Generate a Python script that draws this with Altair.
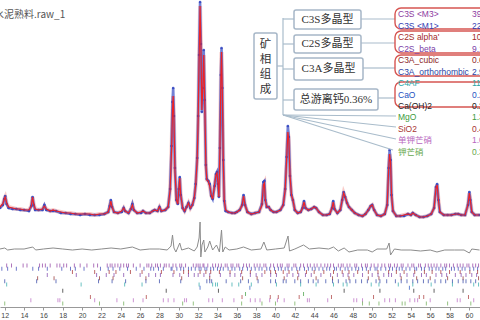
import altair as alt
import pandas as pd

# ---------------- data ----------------
TITLE = "水泥熟料.raw_1"
X_TITLE = "2Th Degrees"

# 2-theta positions of the profile samples
tth = [
    11.5, 11.8, 11.95, 12.05, 12.2, 12.4, 12.8, 13.2, 13.6, 14.0,
    14.5, 14.75, 14.88, 15.0, 15.15, 15.5, 15.9, 16.1, 16.3, 16.7,
    17.0, 17.3, 17.8, 18.3, 18.8, 19.3, 19.8, 20.3, 20.8, 21.3,
    21.8, 22.3, 22.7, 22.85, 22.97, 23.1, 23.3, 23.7, 24.1, 24.3,
    24.45, 24.8, 25.05, 25.2, 25.35, 25.7, 26.1, 26.3, 26.6, 27.0,
    27.3, 27.5, 27.8, 28.0, 28.2, 28.6, 28.9, 29.1, 29.25, 29.35,
    29.42, 29.5, 29.6, 29.75, 29.9, 30.0, 30.1, 30.2, 30.4, 30.6,
    30.8, 31.0, 31.2, 31.4, 31.6, 31.75, 31.9, 32.0, 32.1, 32.2,
    32.28, 32.38, 32.48, 32.58, 32.68, 32.8, 32.9, 33.05, 33.2, 33.35,
    33.5, 33.7, 33.85, 33.95, 34.05, 34.15, 34.25, 34.35, 34.42, 34.5,
    34.6, 34.7, 34.85, 35.1, 35.5, 35.8, 36.0, 36.3, 36.55, 36.7,
    36.85, 37.1, 37.5, 37.9, 38.3, 38.6, 38.75, 38.85, 38.95, 39.1,
    39.3, 39.5, 39.8, 40.1, 40.5, 40.8, 41.0, 41.15, 41.28, 41.38,
    41.5, 41.65, 41.8, 42.0, 42.3, 42.6, 42.8, 42.95, 43.1, 43.4,
    43.7, 44.0, 44.2, 44.5, 44.9, 45.3, 45.6, 45.85, 45.97, 46.1,
    46.4, 46.7, 46.9, 47.05, 47.2, 47.4, 47.6, 47.9, 48.2, 48.6,
    49.0, 49.3, 49.6, 49.85, 50.0, 50.2, 50.5, 50.9, 51.3, 51.55,
    51.7, 51.8, 51.9, 52.0, 52.15, 52.5, 52.9, 53.3, 53.7, 54.0,
    54.2, 54.5, 54.9, 55.3, 55.7, 56.1, 56.4, 56.6, 56.72, 56.85,
    57.0, 57.4, 57.8, 58.2, 58.6, 58.9, 59.2, 59.6, 59.9, 60.05,
    60.15, 60.3, 60.6, 61.1,
]
# calculated profile (arbitrary intensity units)
calc = [
    100, 103, 108, 110, 104, 100, 99, 98, 98, 97,
    97, 101, 110, 103, 98, 97, 98, 101, 98, 96,
    97, 96, 95, 94, 94, 93, 93, 93, 93, 92,
    93, 93, 95, 100, 106, 100, 95, 94, 96, 99,
    96, 94, 98, 102, 97, 94, 95, 96, 94, 94,
    96, 97, 96, 100, 96, 97, 100, 117, 157, 197,
    211, 187, 137, 107, 103, 117, 129, 112, 99, 96,
    100, 104, 99, 102, 109, 122, 147, 187, 247, 301,
    267, 197, 217, 252, 207, 142, 127, 126, 121, 112,
    108, 122, 132, 134, 124, 110, 157, 227, 255, 217,
    147, 107, 97, 95, 94, 94, 95, 97, 102, 111,
    102, 95, 93, 94, 95, 102, 122, 124, 107, 100,
    100, 97, 95, 95, 97, 102, 117, 147, 175, 167,
    132, 112, 107, 97, 94, 95, 99, 105, 99, 97,
    98, 100, 99, 95, 92, 92, 93, 99, 105, 98,
    94, 97, 107, 114, 110, 104, 100, 97, 94, 92,
    91, 93, 97, 101, 102, 97, 92, 91, 93, 102,
    137, 153, 145, 112, 96, 91, 91, 92, 93, 92,
    94, 92, 90, 90, 91, 93, 99, 119, 122, 107,
    95, 92, 92, 92, 93, 93, 92, 92, 102, 114,
    107, 95, 92, 92,
]
# observed profile (same units)
obs = [
    99, 102, 108, 111, 103, 99, 98, 98, 97, 97,
    96, 101, 110, 102, 97, 97, 97, 102, 97, 96,
    96, 96, 94, 94, 93, 93, 92, 93, 92, 92,
    92, 93, 95, 101, 107, 100, 95, 94, 95, 99,
    96, 94, 98, 103, 97, 94, 94, 96, 94, 94,
    96, 97, 96, 100, 96, 97, 100, 118, 161, 205,
    219, 191, 139, 107, 103, 118, 130, 112, 99, 96,
    100, 104, 99, 102, 109, 123, 149, 191, 252, 305,
    263, 195, 219, 257, 207, 142, 128, 126, 123, 111,
    108, 121, 133, 135, 123, 110, 159, 232, 259, 219,
    147, 106, 96, 95, 94, 94, 95, 97, 102, 112,
    102, 95, 93, 94, 95, 103, 125, 126, 107, 100,
    100, 97, 95, 95, 97, 102, 118, 150, 181, 170,
    131, 112, 107, 97, 94, 95, 99, 106, 99, 97,
    98, 100, 99, 95, 92, 92, 93, 99, 106, 98,
    94, 97, 107, 115, 110, 104, 100, 97, 94, 92,
    91, 93, 97, 101, 102, 97, 92, 91, 93, 102,
    139, 157, 147, 112, 96, 91, 91, 91, 93, 92,
    94, 92, 90, 90, 91, 93, 99, 120, 123, 107,
    95, 92, 92, 92, 93, 93, 92, 92, 102, 115,
    107, 95, 92, 92,
]
# difference curve (obs - calc)
diff_tth = [
    11.5, 12.0, 12.3, 13.0, 14.0, 14.9, 15.2, 16.0, 17.0, 18.0,
    19.0, 20.0, 21.0, 22.0, 23.0, 24.0, 25.2, 26.0, 27.0, 28.0,
    28.8, 29.2, 29.35, 29.5, 29.7, 30.1, 30.3, 31.0, 31.6, 31.9,
    32.1, 32.2, 32.28, 32.4, 32.58, 32.7, 33.0, 33.2, 33.5, 33.9,
    34.2, 34.42, 34.55, 34.8, 35.2, 36.0, 36.7, 37.5, 38.5, 38.8,
    39.1, 40.0, 40.9, 41.3, 41.45, 42.0, 42.9, 43.5, 44.5, 45.5,
    46.0, 46.5, 47.1, 47.6, 48.5, 49.5, 50.0, 50.5, 51.5, 51.75,
    51.9, 52.3, 53.0, 54.0, 55.0, 56.0, 56.7, 57.5, 58.5, 59.5,
    60.05, 60.3, 61.1,
]
diff = [
    0, 1, -1, 0, 0, 2, -1, 0, 1, 0,
    -1, 0, -1, 0, 1, 0, 2, -1, 0, 0,
    -1, 3, 14, 1, -3, 6, -1, 1, -2, 2,
    11, 27, -8, 4, 9, -3, 2, 8, -1, 4,
    -3, 19, -3, 2, -1, 0, 2, -1, 0, 7,
    -1, 0, 1, 13, -2, 0, 4, 0, 1, 0,
    2, -2, 1, -3, -1, -1, -3, 0, 0, 6,
    -6, 0, -1, -1, -2, -1, -3, -1, -1, -1,
    -4, 0, -1,
]

phases = ["C3S <M3>", "C3S <M1>", "C2S alpha'", "C2S_beta", "C3A_cubic",
          "C3A_orthorhombic", "C4AF", "CaO", "Ca(OH)2", "MgO", "SiO2",
          "单钾芒硝", "钾芒硝"]
phase_wt = ["39.52", "22.41", "10.87", "9.14", "0.63", "2.95", "11.28",
            "0.20", "0.21", "1.32", "0.47", "1.06", "0.38"]

# reflection positions per phase
r_c3s_m3 = [12.2, 12.7, 13.9, 14.3, 15.6, 15.9, 16.2, 16.7, 17.4, 17.7, 18.1, 18.4,
            19.2, 19.8, 20.5, 21.2, 21.6, 22.6, 22.9, 23.1, 23.4, 23.7, 24.0, 24.3,
            24.6, 24.8, 25.3, 26.0, 26.7, 26.9, 27.2, 27.6, 27.8, 28.1, 28.5, 28.7,
            29.0, 29.4, 29.7, 30.1, 30.3, 30.7, 31.5, 31.8, 32.0, 32.2, 32.5, 32.6,
            33.0, 33.5, 33.8, 34.1, 34.4, 34.8, 35.0, 35.4, 35.6, 36.0, 36.2, 36.7,
            37.0, 37.3, 37.8, 38.1, 38.4, 38.8, 39.0, 39.5, 39.8, 40.2, 40.5, 40.7,
            41.2, 41.4, 41.9, 42.1, 42.6, 42.9, 43.3, 43.6, 44.0, 44.3, 44.7, 45.1,
            45.4, 45.7, 46.0, 46.5, 46.8, 47.0, 47.4, 47.7, 48.2, 48.4, 48.9, 49.3,
            49.5, 49.9, 50.2, 50.6, 51.0, 51.3, 51.7, 51.9, 52.3, 52.6, 53.0, 53.2,
            53.7, 54.1, 54.3, 54.8, 55.0, 55.5, 55.8, 56.1, 56.4, 56.7, 57.1, 57.5,
            57.7, 58.0, 58.4, 58.8, 59.1, 59.4, 59.8, 60.0, 60.4, 60.7, 61.0]
r_c3s_m1 = [11.7, 12.3, 13.2, 14.9, 15.5, 16.4, 17.9, 18.8, 19.3, 20.2, 21.9, 22.7,
            23.2, 23.9, 24.7, 25.6, 26.4, 27.1, 27.4, 27.9, 28.4, 29.2, 29.3, 29.8,
            30.2, 30.5, 31.0, 31.3, 31.7, 32.1, 32.3, 32.7, 32.9, 33.3, 33.6, 34.0,
            34.3, 34.6, 35.1, 35.5, 35.8, 36.3, 36.6, 37.1, 37.5, 37.9, 38.3, 38.6,
            39.1, 39.4, 39.9, 40.3, 40.6, 41.0, 41.3, 41.7, 42.2, 42.5, 43.0, 43.4,
            43.8, 44.1, 44.5, 44.9, 45.3, 45.6, 46.1, 46.3, 46.7, 47.2, 47.5, 47.9,
            48.3, 48.6, 49.0, 49.4, 49.8, 50.3, 50.5, 50.9, 51.4, 51.8, 52.1, 52.5,
            52.8, 53.1, 53.5, 53.9, 54.4, 54.6, 55.1, 55.4, 55.9, 56.2, 56.6, 56.9,
            57.3, 57.6, 58.2, 58.5, 58.9, 59.3, 59.6, 60.1, 60.5, 60.9]
r_c2s_alpha = [19.0, 21.3, 22.8, 23.5, 25.0, 26.2, 28.2, 29.5, 30.5, 31.0, 32.2, 32.8,
               33.3, 34.2, 35.3, 36.5, 37.4, 38.9, 39.5, 40.0, 40.8, 41.4, 42.3, 43.2,
               44.0, 45.0, 46.0, 46.9, 47.6, 48.5, 49.6, 50.6, 51.7, 52.5, 53.3, 54.4,
               55.4, 56.2, 57.1, 58.0, 59.1, 60.1, 60.9]
r_c2s_beta = [16.4, 19.4, 21.5, 22.5, 23.3, 24.3, 26.0, 26.9, 27.6, 28.1, 29.4, 30.1,
              31.0, 31.6, 32.0, 32.6, 33.2, 34.3, 35.3, 35.8, 36.4, 37.4, 38.0, 38.6,
              39.5, 40.1, 41.2, 41.8, 42.4, 43.1, 43.7, 44.7, 45.7, 46.4, 47.0, 47.5,
              48.1, 49.0, 50.0, 50.6, 51.2, 51.7, 52.0, 52.9, 53.6, 54.3, 55.1, 55.6,
              56.6, 57.2, 57.7, 58.6, 59.2, 59.7, 60.3, 60.8]
r_c3a_cubic = [15.4, 17.1, 21.8, 23.2, 26.6, 30.3, 33.2, 36.6, 38.1, 40.9, 42.3, 44.2,
               45.9, 47.6, 49.6, 50.7, 53.0, 54.6, 56.0, 57.8, 59.4, 61.0]
r_c3a_ortho = [12.0, 15.3, 17.3, 21.7, 23.1, 24.5, 26.6, 28.0, 30.2, 32.9, 33.2, 33.4,
               34.9, 36.4, 37.2, 38.2, 39.5, 40.0, 40.8, 41.1, 42.0, 42.6, 43.4, 43.9,
               44.4, 45.2, 45.9, 46.5, 47.3, 47.7, 48.3, 48.9, 49.5, 50.4, 50.8, 51.5,
               52.4, 53.0, 53.6, 54.2, 54.7, 55.3, 55.8, 56.5, 57.1, 57.6, 58.3, 58.9,
               59.4, 59.7, 60.2, 60.7]
r_c4af = [12.2, 19.9, 24.4, 26.2, 32.1, 33.5, 33.8, 34.0, 35.5, 36.2, 37.5, 40.1,
          42.6, 44.2, 46.0, 47.0, 47.4, 49.9, 50.7, 52.7, 54.2, 56.1, 58.3, 60.5, 61.0]
r_cao = [32.2, 37.35, 53.85]
r_caoh2 = [18.0, 28.7, 34.1, 47.1, 50.8, 54.3, 56.4, 59.4]
r_mgo = [36.9, 42.9]
r_sio2 = [20.86, 26.64, 36.54, 39.46, 40.29, 42.45, 45.79, 50.14, 54.87, 55.33, 59.96]
r_arcanite = [14.7, 17.5, 17.7, 21.3, 23.6, 25.3, 26.3, 28.4, 28.9, 29.5, 30.6, 30.8,
              33.1, 33.5, 34.5, 35.7, 37.4, 37.9, 38.4, 39.4, 40.2, 40.9, 43.3, 43.5,
              45.4, 48.1, 48.4, 49.0, 51.3, 51.8, 52.4, 53.9, 54.4, 54.7, 56.0, 58.8,
              59.1, 60.5]
r_aphth = [12.0, 18.0, 21.8, 24.3, 30.4, 31.5, 36.5, 38.6, 40.0, 42.0, 49.0, 49.7,
           50.7, 53.1, 53.4, 55.6, 57.8, 60.2]
reflections = [r_c3s_m3, r_c3s_m1, r_c2s_alpha, r_c2s_beta, r_c3a_cubic, r_c3a_ortho,
               r_c4af, r_cao, r_caoh2, r_mgo, r_sio2, r_arcanite, r_aphth]

root_label = "矿相组成"
group_labels = ["C3S多晶型", "C2S多晶型", "C3A多晶型", "总游离钙0.36%"]

# ---------------- styles / layout ----------------
PHASE_COLORS = ["#8d3b9f", "#3341b3", "#a32a2a", "#7a40a8", "#8e2828", "#2b3fa3",
                "#2aa6a6", "#2452bf", "#222222", "#3d9b3d", "#a83434", "#b866c0",
                "#67a84d"]
W, H = 480, 307
XDOM = [11.51, 61.15]

xs = alt.Scale(domain=XDOM, nice=False, zero=False)
axis = alt.Axis(values=list(range(12, 62, 2)), title=X_TITLE, grid=False,
                labelFontSize=7, titleFontSize=7, labelColor="#444", titleColor="#444",
                domainColor="#999", tickColor="#999", tickSize=3, labelPadding=1,
                titlePadding=1, titleFontWeight="normal", labelFont="Liberation Sans",
                titleFont="Liberation Sans", labelFlush=False, titleX=248)
ys = alt.Scale(domain=[0, H], nice=False, zero=False)

prof = pd.DataFrame({"tth": tth, "calc": calc, "obs": obs})
dif = pd.DataFrame({"tth": diff_tth, "d": diff})
ticks = pd.DataFrame([{"phase": p, "tth": t} for p, lst in zip(phases, reflections) for t in lst])

halo = alt.Chart(prof).mark_line(color="#f5a09b", strokeWidth=4, opacity=0.55).encode(
    x=alt.X("tth:Q", scale=xs, axis=axis), y=alt.Y("calc:Q", scale=ys, axis=None))
obs_line = alt.Chart(prof).mark_line(color="#4356c6", strokeWidth=2.6, opacity=0.75).encode(
    x=alt.X("tth:Q", scale=xs, axis=None), y=alt.Y("obs:Q", scale=ys, axis=None))
obs_pts = alt.Chart(prof).mark_circle(size=7, color="#3346c0", opacity=0.9).encode(
    x=alt.X("tth:Q", scale=xs, axis=None), y=alt.Y("obs:Q", scale=ys, axis=None))
calc_line = alt.Chart(prof).mark_line(color="#ec2226", strokeWidth=1.2).encode(
    x=alt.X("tth:Q", scale=xs, axis=None), y=alt.Y("calc:Q", scale=ys, axis=None))
diff_line = alt.Chart(dif).mark_line(color="#8c8c8c", strokeWidth=1).encode(
    x=alt.X("tth:Q", scale=xs, axis=None),
    y=alt.Y("d:Q", scale=alt.Scale(domain=[-58, 249], nice=False, zero=False), axis=None))
tick_layer = alt.Chart(ticks).mark_tick(thickness=1, size=4).encode(
    x=alt.X("tth:Q", scale=xs, axis=None),
    y=alt.Y("phase:N", scale=alt.Scale(domain=phases, range=[264, 305], padding=0), axis=None),
    color=alt.Color("phase:N", scale=alt.Scale(domain=phases, range=PHASE_COLORS), legend=None))

title_layer = alt.Chart(pd.DataFrame({"t": [TITLE]})).mark_text(
    align="left", baseline="middle", fontSize=10, font="Noto Sans CJK SC", color="#555").encode(
    text="t:N", x=alt.value(-6), y=alt.value(15))

# annotation diagram (pixel layout)
gray_boxes = pd.DataFrame({"x": [254, 294, 294, 294, 294], "x2": [277, 361, 361, 363, 378],
                           "y": [33, 10, 35, 58, 89], "y2": [99, 29, 53, 80, 110]})
red_boxes = pd.DataFrame({"x": [395] * 4, "x2": [560] * 4,
                          "y": [8, 31, 55, 82], "y2": [29, 53, 76, 107]})
conn = pd.DataFrame({
    "x":  [277, 283, 283, 283, 283, 283, 361, 361, 363, 378, 283, 283, 283, 283],
    "y":  [66, 18, 19, 44, 69, 100, 19, 43, 68, 98, 115, 115, 115, 115],
    "x2": [283, 283, 294, 294, 294, 294, 395, 395, 395, 395, 396, 396, 396, 393],
    "y2": [66, 115, 19, 44, 69, 100, 19, 43, 68, 98, 116, 127, 139, 150]})

px = lambda f: alt.X(f, scale=None)
py = lambda f: alt.Y(f, scale=None)

gray_layer = alt.Chart(gray_boxes).mark_rect(
    fill="white", stroke="#a6b6c7", strokeWidth=1.5, cornerRadius=2).encode(
    x=px("x:Q"), x2="x2:Q", y=py("y:Q"), y2="y2:Q")
red_layer = alt.Chart(red_boxes).mark_rect(
    fill="white", stroke="#d65552", strokeWidth=1.4, cornerRadius=6).encode(
    x=px("x:Q"), x2="x2:Q", y=py("y:Q"), y2="y2:Q")
conn_layer = alt.Chart(conn).mark_rule(color="#a9bccb", strokeWidth=1.2).encode(
    x=px("x:Q"), y=py("y:Q"), x2="x2:Q", y2="y2:Q")

root_df = pd.DataFrame({"t": list(root_label), "x": [265.5] * 4, "y": [45, 60, 75, 90]})
root_layer = alt.Chart(root_df).mark_text(fontSize=11.5, font="Noto Sans CJK SC", color="#333",
                                          baseline="middle").encode(
    text="t:N", x=px("x:Q"), y=py("y:Q"))
grp_df = pd.DataFrame({"t": group_labels, "x": [327.5, 327.5, 328.5, 336],
                       "y": [19.5, 44, 69, 100]})
grp_layer = alt.Chart(grp_df).mark_text(fontSize=11, font="'Liberation Serif', 'Noto Sans CJK SC'",
                                        color="#333", baseline="middle").encode(
    text="t:N", x=px("x:Q"), y=py("y:Q"))

rows_y = [14, 25.5, 37, 48.5, 60, 71.5, 83, 94.5, 106, 117, 128.5, 140, 151.5]
names_df = pd.DataFrame({"t": phases, "y": rows_y, "c": PHASE_COLORS, "x": [398] * 13})
vals_df = pd.DataFrame({"t": phase_wt, "y": rows_y, "c": PHASE_COLORS, "x": [472] * 13})
names_layer = alt.Chart(names_df).mark_text(
    align="left", baseline="middle", fontSize=8.5, font="'Liberation Sans', 'Noto Sans CJK SC'").encode(
    text="t:N", x=px("x:Q"), y=py("y:Q"), color=alt.Color("c:N", scale=None))
vals_layer = alt.Chart(vals_df).mark_text(
    align="left", baseline="middle", fontSize=8.5, font="'Liberation Sans'").encode(
    text="t:N", x=px("x:Q"), y=py("y:Q"), color=alt.Color("c:N", scale=None))

chart = alt.layer(
    halo, obs_line, obs_pts, calc_line, diff_line, tick_layer, title_layer,
    conn_layer, gray_layer, red_layer, root_layer, grp_layer, names_layer, vals_layer,
).resolve_scale(x="independent", y="independent", color="independent").properties(
    width=W, height=H,
    autosize=alt.AutoSizeParams(type="none"),
    padding={"left": 0, "top": 0, "right": 0, "bottom": 13},
    background="white",
).configure_view(stroke=None)

chart.save("out.html", embed_options={"renderer": "svg", "actions": False})
